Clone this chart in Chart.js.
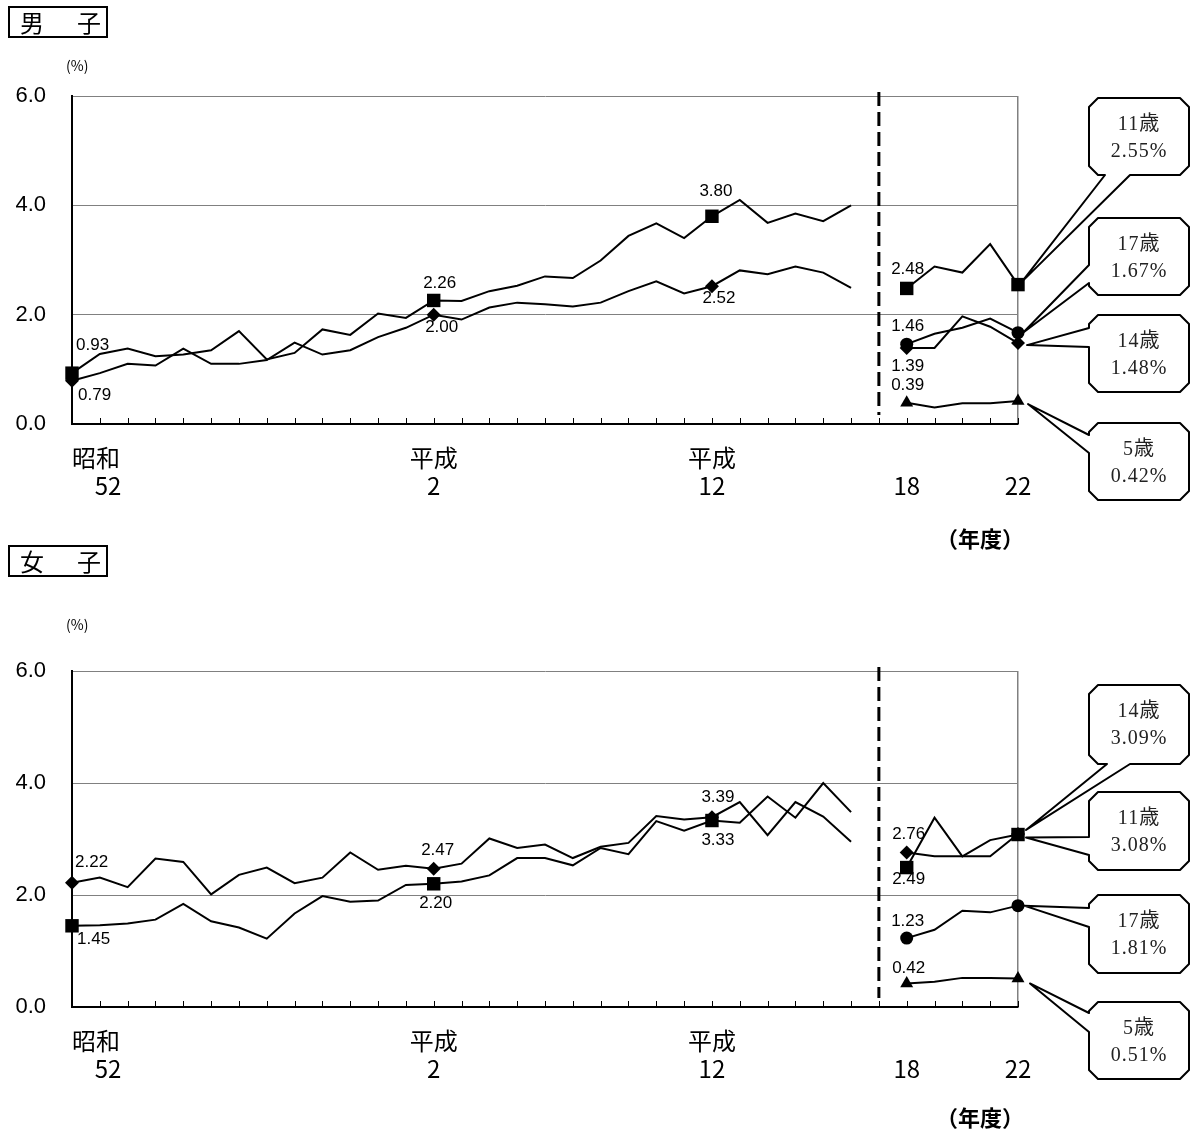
<!DOCTYPE html>
<html lang="ja">
<head>
<meta charset="utf-8">
<title>年齢別の推移（男子・女子）</title>
<script src="https://cdn.jsdelivr.net/npm/chart.js@4.4.1/dist/chart.umd.min.js"></script>
<style>
  html, body { margin: 0; padding: 0; background: #fff; }
  #page { position: relative; width: 1194px; height: 1137px; overflow: hidden; font-family: 'Noto Sans CJK JP', sans-serif; color: #000; }
  .panel { position: absolute; left: 0; width: 1194px; }
  .panel canvas { position: absolute; left: 0; top: 0; }
  .sex { position: absolute; left: 8px; width: 96px; height: 28px; border: 2px solid #000; font-size: 24px; line-height: 28px; }
  .sex span { position: absolute; top: 0; }
  .unit { position: absolute; left: 66px; font-size: 14px; line-height: 16px; }
  .nendo { position: absolute; left: 936px; font-size: 22px; line-height: 24px; font-weight: bold; }
</style>
</head>
<body>
<div id="page">
  <div class="panel" style="top:0;height:540px"><canvas id="boys" width="1194" height="540"></canvas></div>
  <div class="panel" style="top:540px;height:597px"><canvas id="girls" width="1194" height="597"></canvas></div>

  <div class="sex" style="top:6px"><span style="left:10px">男</span><span style="left:67px">子</span></div>
  <div class="unit" style="top:57px">(%)</div>
  <div class="nendo" style="top:525px">（年度）</div>

  <div class="sex" style="top:545px"><span style="left:10px">女</span><span style="left:67px">子</span></div>
  <div class="unit" style="top:616px">(%)</div>
  <div class="nendo" style="top:1104px">（年度）</div>
</div>

<script>
// 昭和52〜平成17 (continuous), a blank slot, then 平成18〜22
const trendYears = ['S52', 'S53', 'S54', 'S55', 'S56', 'S57', 'S58', 'S59', 'S60', 'S61',
  'S62', 'S63', 'H1', 'H2', 'H3', 'H4', 'H5', 'H6', 'H7', 'H8', 'H9', 'H10', 'H11', 'H12',
  'H13', 'H14', 'H15', 'H16', 'H17'];
const recentYears = ['H18', 'H19', 'H20', 'H21', 'H22'];
const gapYear = '';
const categories = trendYears.concat([gapYear], recentYears);

// tick labels (only these categories are labelled)
const tickAt = ['S52', 'H2', 'H12', 'H18', 'H22'];
const tickEra = ['昭和', '平成', '平成', '', ''];
const tickYear = ['52', '2', '12', '18', '22'];

// categories that carry a marker
const markedYears = ['S52', 'H2', 'H12', 'H18', 'H22'];

const yTicks = [0, 2, 4, 6];

// 男子 (%)
const boys11Trend = [0.93, 1.28, 1.38, 1.24, 1.27, 1.35, 1.70, 1.18, 1.30, 1.73, 1.63, 2.02, 1.94, 2.26,
  2.25, 2.43, 2.53, 2.70, 2.67, 2.99, 3.44, 3.67, 3.40, 3.80, 4.10, 3.68, 3.85, 3.71, 4.00];
const boys14Trend = [0.79, 0.93, 1.10, 1.07, 1.38, 1.10, 1.10, 1.17, 1.49, 1.27, 1.35, 1.59, 1.76, 2.00,
  1.91, 2.13, 2.22, 2.19, 2.15, 2.22, 2.43, 2.61, 2.39, 2.52, 2.81, 2.74, 2.88, 2.77, 2.49];
const boys11Recent = [2.48, 2.88, 2.77, 3.29, 2.55];
const boys14Recent = [1.39, 1.39, 1.97, 1.78, 1.48];
const boys17Recent = [1.46, 1.65, 1.76, 1.93, 1.67];
const boys5Recent = [0.39, 0.30, 0.38, 0.38, 0.42];

// 女子 (%)
const girls11Trend = [1.45, 1.46, 1.49, 1.56, 1.84, 1.53, 1.42, 1.22, 1.67, 1.98, 1.88, 1.90, 2.18, 2.20,
  2.24, 2.35, 2.66, 2.66, 2.53, 2.84, 2.73, 3.32, 3.15, 3.33, 3.29, 3.76, 3.38, 4.00, 3.48];
const girls14Trend = [2.22, 2.31, 2.14, 2.65, 2.59, 2.01, 2.36, 2.49, 2.21, 2.31, 2.76, 2.45, 2.52, 2.47,
  2.56, 3.01, 2.84, 2.90, 2.66, 2.86, 2.93, 3.41, 3.35, 3.39, 3.66, 3.07, 3.66, 3.40, 2.95];
const girls11Recent = [2.49, 3.38, 2.69, 2.98, 3.08];
const girls14Recent = [2.76, 2.69, 2.69, 2.69, 3.09];
const girls17Recent = [1.23, 1.38, 1.72, 1.69, 1.81];
const girls5Recent = [0.42, 0.45, 0.52, 0.52, 0.51];

const ageNames = {a11: '11歳', a14: '14歳', a17: '17歳', a5: '5歳'};

const PLOT_LEFT = 72;
const PLOT_RIGHT = 1018;
const TICK_FONT = {family: 'Noto Sans CJK JP', size: 24, lineHeight: 1.15};
const Y_FONT = {family: 'Liberation Sans', size: 22};
const MARKERS = {
  a11: {style: 'rect', r: 9.5},
  a14: {style: 'rectRot', r: 7},
  a17: {style: 'circle', r: 6.5},
  a5: {style: 'triangle', r: 7.5},
};

/**
 * Points of one age group: the long trend (if any), a break, then 平成18〜22.
 */
const toPoints = (trend, recent) => {
  const pts = [];
  if (trend) {
    trend.forEach((v, i) => pts.push({x: trendYears[i], y: v}));
    pts.push({x: gapYear, y: null});
  }
  recent.forEach((v, i) => pts.push({x: recentYears[i], y: v}));
  return pts;
};

const makeDataset = (key, trend, recent) => ({
  label: ageNames[key],
  key: key,
  data: toPoints(trend, recent),
  borderColor: '#000',
  backgroundColor: '#000',
  borderWidth: 2,
  tension: 0,
  spanGaps: false,
  clip: false,
  pointStyle: MARKERS[key].style,
  pointRadius: (ctx) => (ctx.raw && markedYears.includes(ctx.raw.x) ? MARKERS[key].r : 0),
  pointHoverRadius: (ctx) => (ctx.raw && markedYears.includes(ctx.raw.x) ? MARKERS[key].r : 0),
  pointBorderWidth: 0,
});

const valueOf = (ds, year) => {
  const p = ds.data.find((d) => d.x === year);
  return p ? p.y : null;
};

const pixelOf = (chart, ds, year) => ({
  x: chart.scales.x.getPixelForValue(categories.indexOf(year)),
  y: chart.scales.y.getPixelForValue(valueOf(ds, year)),
});

/**
 * Speech-bubble box with chamfered corners and a wedge to the point.
 */
const drawCallout = (ctx, spec, tip, line1, line2) => {
  const [bx, by, bw, bh] = spec.box;
  const c = 9;
  ctx.beginPath();
  ctx.moveTo(bx + c, by);
  ctx.lineTo(bx + bw - c, by);
  ctx.lineTo(bx + bw, by + c);
  ctx.lineTo(bx + bw, by + bh - c);
  ctx.lineTo(bx + bw - c, by + bh);
  if (spec.side === 'bottom') {
    ctx.lineTo(spec.base[1], by + bh);
    ctx.lineTo(tip.x, tip.y);
    ctx.lineTo(spec.base[0], by + bh);
  }
  ctx.lineTo(bx + c, by + bh);
  ctx.lineTo(bx, by + bh - c);
  if (spec.side === 'left') {
    ctx.lineTo(bx, spec.base[1]);
    ctx.lineTo(tip.x, tip.y);
    ctx.lineTo(bx, spec.base[0]);
  }
  ctx.lineTo(bx, by + c);
  ctx.closePath();
  ctx.fillStyle = '#fff';
  ctx.fill();
  ctx.lineWidth = 2;
  ctx.lineJoin = 'round';
  ctx.strokeStyle = '#000';
  ctx.stroke();

  ctx.fillStyle = '#222';
  ctx.font = '20px "Liberation Serif", "Noto Sans CJK JP", serif';
  ctx.textAlign = 'center';
  ctx.textBaseline = 'middle';
  ctx.letterSpacing = '1px';
  ctx.fillText(line1, bx + bw / 2, by + 27);
  ctx.fillText(line2, bx + bw / 2, by + 54);
  ctx.letterSpacing = '0px';
};

const overlayPlugin = (labels, callouts) => ({
  id: 'overlay',
  beforeDatasetsDraw(chart) {
    const {ctx, chartArea: a} = chart;
    const x = chart.scales.x;
    ctx.save();
    // small ticks pointing into the plot
    ctx.strokeStyle = '#000';
    ctx.lineWidth = 1;
    categories.forEach((c, i) => {
      const px = Math.round(x.getPixelForValue(i)) + 0.5;
      ctx.beginPath();
      ctx.moveTo(px, a.bottom);
      ctx.lineTo(px, a.bottom - 6);
      ctx.stroke();
    });
    // dashed divider in the blank year
    const gx = x.getPixelForValue(categories.indexOf(gapYear));
    ctx.lineWidth = 3;
    ctx.setLineDash([14, 6]);
    ctx.beginPath();
    ctx.moveTo(gx, a.top - 4);
    ctx.lineTo(gx, a.bottom - 9);
    ctx.stroke();
    ctx.restore();
  },
  afterDatasetsDraw(chart) {
    const ctx = chart.ctx;
    const byKey = (k) => chart.data.datasets.find((d) => d.key === k);
    ctx.save();
    ctx.font = '17px "Liberation Sans", sans-serif';
    ctx.fillStyle = '#000';
    ctx.textBaseline = 'middle';
    labels.forEach((l) => {
      const ds = byKey(l.ds);
      const p = pixelOf(chart, ds, l.at);
      ctx.textAlign = l.align || 'center';
      ctx.fillText(valueOf(ds, l.at).toFixed(2), p.x + l.dx, p.y + l.dy);
    });
    callouts.forEach((c) => {
      const ds = byKey(c.ds);
      const last = recentYears[recentYears.length - 1];
      const p = pixelOf(chart, ds, last);
      drawCallout(ctx, c, {x: p.x + c.tip[0], y: p.y + c.tip[1]},
          ds.label, valueOf(ds, last).toFixed(2) + '%');
    });
    ctx.restore();
  },
});

const makeChart = (id, datasets, plotTop, plotBottom, labels, callouts) => {
  const canvas = document.getElementById(id);
  return new Chart(canvas, {
    type: 'line',
    data: {labels: categories, datasets: datasets},
    options: {
      responsive: false,
      animation: false,
      events: [],
      layout: {padding: {left: 0, right: canvas.width - PLOT_RIGHT, top: plotTop, bottom: 0}},
      plugins: {legend: {display: false}, tooltip: {enabled: false}},
      scales: {
        x: {
          type: 'category',
          labels: categories,
          offset: false,
          afterFit: (s) => { s.height = canvas.height - plotBottom; },
          border: {color: '#000', width: 2},
          grid: {
            drawTicks: false,
            lineWidth: 1.5,
            color: (ctx) => (ctx.index === categories.length - 1 ? '#808080' : 'rgba(0,0,0,0)'),
          },
          ticks: {
            autoSkip: false,
            maxRotation: 0,
            minRotation: 0,
            padding: 20,
            color: '#000',
            font: TICK_FONT,
            callback: (v, i) => {
              const k = tickAt.indexOf(categories[i]);
              if (k < 0) return '';
              // first label sits to the right of the axis corner
              if (i === 0) return ['\u3000\u3000' + tickEra[k], '\u3000\u3000\u3000' + tickYear[k]];
              return [tickEra[k], tickYear[k]];
            },
          },
        },
        y: {
          min: yTicks[0],
          max: yTicks[yTicks.length - 1],
          afterFit: (s) => { s.width = PLOT_LEFT; },
          afterBuildTicks: (s) => { s.ticks = yTicks.map((v) => ({value: v})); },
          border: {color: '#000', width: 2},
          grid: {color: '#808080', lineWidth: 1, drawTicks: false},
          ticks: {
            padding: 26,
            color: '#000',
            font: Y_FONT,
            callback: (v) => Number(v).toFixed(1),
          },
        },
      },
    },
    plugins: [overlayPlugin(labels, callouts)],
  });
};

makeChart('boys', [
  makeDataset('a11', boys11Trend, boys11Recent),
  makeDataset('a14', boys14Trend, boys14Recent),
  makeDataset('a17', null, boys17Recent),
  makeDataset('a5', null, boys5Recent),
], 96, 424, [
  {ds: 'a11', at: 'S52', dx: 4, dy: -28, align: 'left'},
  {ds: 'a14', at: 'S52', dx: 6, dy: 14, align: 'left'},
  {ds: 'a11', at: 'H2', dx: 6, dy: -17},
  {ds: 'a14', at: 'H2', dx: 8, dy: 13},
  {ds: 'a11', at: 'H12', dx: 4, dy: -25},
  {ds: 'a14', at: 'H12', dx: 7, dy: 12},
  {ds: 'a11', at: 'H18', dx: 1, dy: -19},
  {ds: 'a17', at: 'H18', dx: 1, dy: -18},
  {ds: 'a14', at: 'H18', dx: 1, dy: 18},
  {ds: 'a5', at: 'H18', dx: 1, dy: -17},
], [
  {ds: 'a11', box: [1089, 98, 100, 77], side: 'bottom', base: [1105, 1130], tip: [4, -3]},
  {ds: 'a17', box: [1089, 218, 100, 77], side: 'left', base: [265, 283], tip: [5, 0]},
  {ds: 'a14', box: [1089, 315, 100, 77], side: 'left', base: [328, 347], tip: [9, 2]},
  {ds: 'a5', box: [1089, 423, 100, 77], side: 'left', base: [435, 453], tip: [10, 3]},
]);

makeChart('girls', [
  makeDataset('a11', girls11Trend, girls11Recent),
  makeDataset('a14', girls14Trend, girls14Recent),
  makeDataset('a17', null, girls17Recent),
  makeDataset('a5', null, girls5Recent),
], 131, 467, [
  {ds: 'a14', at: 'S52', dx: 3, dy: -20, align: 'left'},
  {ds: 'a11', at: 'S52', dx: 5, dy: 14, align: 'left'},
  {ds: 'a14', at: 'H2', dx: 4, dy: -18},
  {ds: 'a11', at: 'H2', dx: 2, dy: 20},
  {ds: 'a14', at: 'H12', dx: 6, dy: -20},
  {ds: 'a11', at: 'H12', dx: 6, dy: 20},
  {ds: 'a14', at: 'H18', dx: 2, dy: -18},
  {ds: 'a11', at: 'H18', dx: 2, dy: 12},
  {ds: 'a17', at: 'H18', dx: 1, dy: -17},
  {ds: 'a5', at: 'H18', dx: 2, dy: -15},
], [
  {ds: 'a14', box: [1089, 145, 100, 79], side: 'bottom', base: [1107, 1130], tip: [8, -4]},
  {ds: 'a11', box: [1089, 252, 100, 78], side: 'left', base: [297, 315], tip: [8, 3]},
  {ds: 'a17', box: [1089, 355, 100, 78], side: 'left', base: [368, 387], tip: [6, 0]},
  {ds: 'a5', box: [1089, 462, 100, 77], side: 'left', base: [473, 492], tip: [12, 5]},
]);
</script>
</body>
</html>
